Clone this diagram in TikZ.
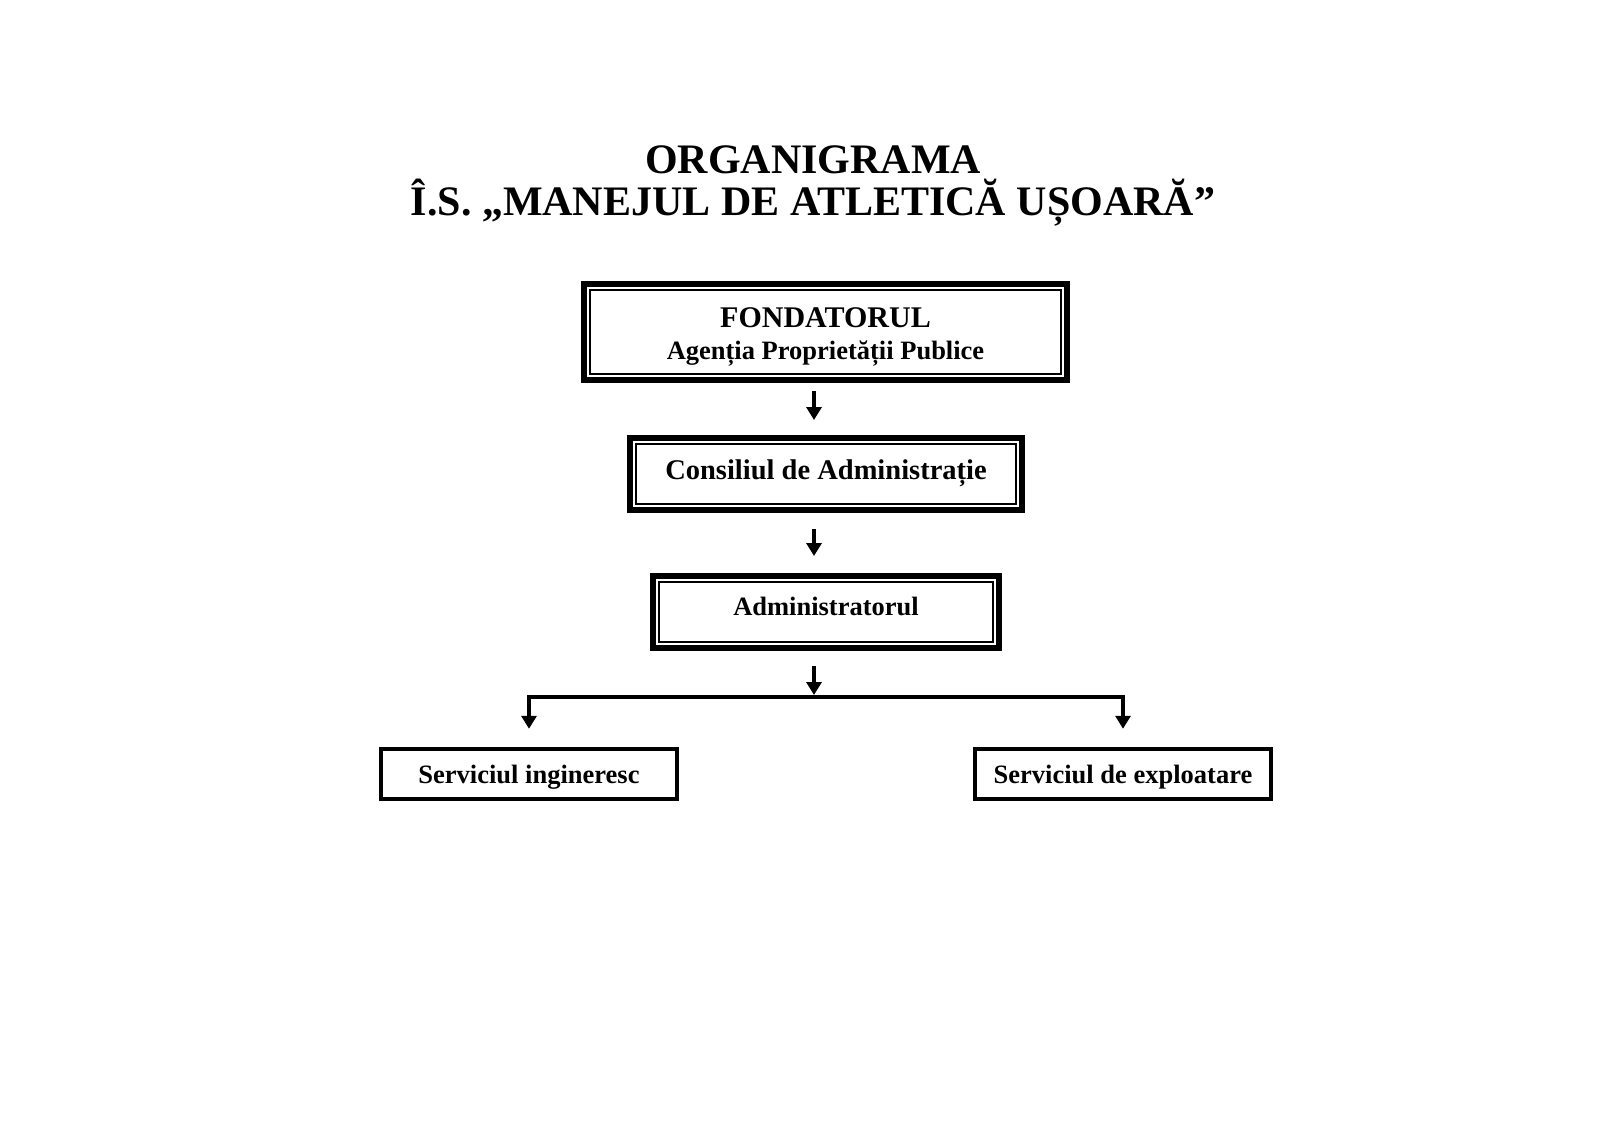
\documentclass[tikz,border=0pt]{standalone}
\usepackage{fontspec}
\setmainfont{Liberation Serif}
\usetikzlibrary{arrows.meta}
\begin{document}
\begin{tikzpicture}[x=1pt,y=-1pt,
  thickbox/.style={draw, line width=6pt, inner sep=0pt,
    path picture={\draw[line width=1.5pt]
      ([shift={(6.2pt,6.2pt)}]path picture bounding box.south west) rectangle
      ([shift={(-6.2pt,-6.2pt)}]path picture bounding box.north east);}},
  thinbox/.style={draw, line width=4.5pt, inner sep=0pt, minimum width=296pt, minimum height=50pt,
    font=\fontsize{26.5}{30}\selectfont\bfseries, text height=18pt, text depth=0pt},
  arr/.style={line width=4.2pt, -{Triangle[width=15pt,length=13pt]}},
  titlefont/.style={font=\fontsize{42}{42}\selectfont\bfseries}
]
\useasboundingbox (0,0) rectangle (1600,1132);
\fill[white] (0,0) rectangle (1600,1132);

\node[titlefont, anchor=base] (t1) at (813,173) {ORGANIGRAMA};
\node[titlefont, anchor=base] (t2) at (813,215) {Î.S. „MANEJUL DE ATLETICĂ UȘOARĂ”};

\node[thickbox, minimum width=483pt, minimum height=96pt, align=center,
  font=\fontsize{26.5}{32}\selectfont\bfseries, text height=60pt, text depth=6pt]
  (fond) at (825.5,332) {{\fontsize{30}{32}\selectfont FONDATORUL}\\Agenția Proprietății Publice};
\node[thickbox, minimum width=392pt, minimum height=72pt,
  font=\fontsize{28.5}{30}\selectfont\bfseries, text height=15pt, text depth=5pt]
  (cons) at (826,474) {Consiliul de Administrație};
\node[thickbox, minimum width=346pt, minimum height=72pt,
  font=\fontsize{26.5}{30}\selectfont\bfseries, text height=12pt, text depth=6pt]
  (adm) at (826,612) {Administratorul};
\node[thinbox] (ing) at (529,774) {Serviciul ingineresc};
\node[thinbox] (exp) at (1123,774) {Serviciul de exploatare};

\coordinate (ax) at (814,0);
\coordinate (hy) at (0,697);
\draw[arr, shorten <=8pt, shorten >=15pt] (fond.south -| ax) -- (cons.north -| ax);
\draw[arr, shorten <=16pt, shorten >=17pt] (cons.south -| ax) -- (adm.north -| ax);
\draw[arr, shorten <=15pt, shorten >=2pt] (adm.south -| ax) -- (hy -| ax);
\draw[line width=4.5pt, line join=miter,
  {Triangle[width=15pt,length=13pt]}-{Triangle[width=15pt,length=13pt]},
  shorten <=18pt, shorten >=18pt]
  (ing.north) -- (ing.north |- hy) -- (exp.north |- hy) -- (exp.north);
\end{tikzpicture}
\end{document}
